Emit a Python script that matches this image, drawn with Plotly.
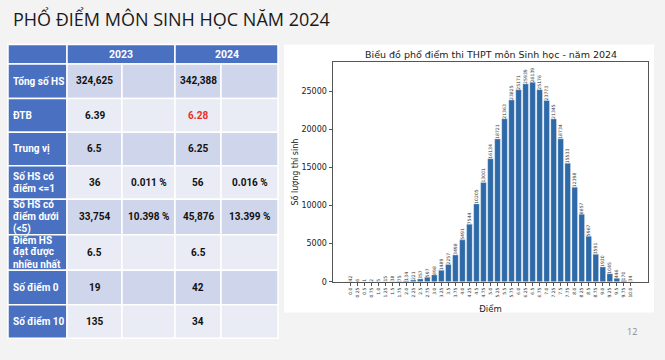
import plotly.graph_objects as go

W, H = 665, 360

# ---------------- data ----------------
scores = ["0.0", "0.25", "0.5", "0.75", "1.0", "1.25", "1.5", "1.75", "2.0", "2.25",
          "2.5", "2.75", "3.0", "3.25", "3.5", "3.75", "4.0", "4.25", "4.5", "4.75",
          "5.0", "5.25", "5.5", "5.75", "6.0", "6.25", "6.5", "6.75", "7.0", "7.25",
          "7.5", "7.75", "8.0", "8.25", "8.5", "8.75", "9.0", "9.25", "9.5", "9.75", "10.0"]
counts = [42, 6, 1, 2, 5, 15, 38, 75, 134, 221,
          357, 597, 898, 1489, 2257, 3498, 5491, 7544, 10205, 13001,
          16134, 18721, 21363, 23825, 25171, 25939, 26139, 25176, 23773, 21345,
          18734, 15533, 12398, 8857, 5967, 3591, 1930, 1045, 446, 170, 34]

row_labels = ["Tổng số HS", "ĐTB", "Trung vị", "Số HS có<br>điểm &lt;=1",
              "Số HS có<br>điểm dưới<br>(&lt;5)", "Điểm HS<br>đạt được<br>nhiều nhất",
              "Số điểm 0", "Số điểm 10"]
years = ["2023", "2024"]
val_2023 = ["324,625", "6.39", "6.5", "36", "33,754", "6.5", "19", "135"]
pct_2023 = ["", "", "", "0.011 %", "10.398 %", "", "", ""]
val_2024 = ["342,388", "6.28", "6.25", "56", "45,876", "6.5", "42", "34"]
pct_2024 = ["", "", "", "0.016 %", "13.399 %", "", "", ""]


def px(x):
    return x / W


def py(y):
    return 1 - y / H


fig = go.Figure()
fig.add_trace(go.Bar(
    x=scores, y=counts, text=[str(c) for c in counts],
    textposition="outside", textangle=-90, constraintext="none",
    textfont=dict(size=4.6, color="#333", family="DejaVu Sans"),
    marker=dict(color="#2e69a8", line=dict(color="#ffffff", width=0.3)),
    cliponaxis=False, showlegend=False,
))

shapes = []
annotations = []


def note(x, y, text, font, xanchor="center", yanchor="middle", align="center"):
    annotations.append(dict(x=px(x), y=py(y), xref="paper", yref="paper", text=text,
                            showarrow=False, xanchor=xanchor, yanchor=yanchor, align=align,
                            font=font))


# white chart panel
shapes.append(dict(type="rect", xref="paper", yref="paper", layer="below",
                   x0=px(284), x1=px(654), y0=py(317), y1=py(45),
                   fillcolor="#ffffff", line=dict(width=0)))

# ---------------- table ----------------
BLUE = "#4a70c2"
DARK = "#cfd5ea"
LIGHT = "#e9ebf5"
col_x = [8, 67, 122, 175, 221, 278]
hdr = (45, 65)
row_y = [65, 100, 134, 168, 202, 238, 274, 309, 343]
GRID = dict(color="#ffffff", width=1.5)
LINE_H = 12.2

shapes.append(dict(type="rect", xref="paper", yref="paper", x0=px(col_x[0]), x1=px(col_x[1]),
                   y0=py(hdr[1]), y1=py(hdr[0]), fillcolor=BLUE, line=GRID))
for i, yr in enumerate(years):
    xa, xb = col_x[1 + 2 * i], col_x[3 + 2 * i]
    shapes.append(dict(type="rect", xref="paper", yref="paper", x0=px(xa), x1=px(xb),
                       y0=py(hdr[1]), y1=py(hdr[0]), fillcolor=BLUE, line=GRID))
    note((xa + xb) / 2, (hdr[0] + hdr[1]) / 2, "<b>%s</b>" % yr,
         dict(family="Roboto", size=10.5, color="#ffffff"))

for r, lab in enumerate(row_labels):
    ya, yb = row_y[r], row_y[r + 1]
    fill = DARK if r % 2 == 0 else LIGHT
    shapes.append(dict(type="rect", xref="paper", yref="paper", x0=px(col_x[0]), x1=px(col_x[1]),
                       y0=py(yb), y1=py(ya), fillcolor=BLUE, line=GRID))
    lines = lab.split("<br>")
    mid = (ya + yb) / 2
    for k, ln in enumerate(lines):
        yy = mid + (k - (len(lines) - 1) / 2) * LINE_H
        note(11, yy, "<b>%s</b>" % ln,
             dict(family="Roboto", size=10, color="#ffffff"), xanchor="left", align="left")
    cells = [val_2023[r], pct_2023[r], val_2024[r], pct_2024[r]]
    for c, txt in enumerate(cells):
        xa, xb = col_x[1 + c], col_x[2 + c]
        shapes.append(dict(type="rect", xref="paper", yref="paper", x0=px(xa), x1=px(xb),
                           y0=py(yb), y1=py(ya), fillcolor=fill, line=GRID))
        if txt:
            color = "#e8302a" if (c == 2 and r == 1) else "#111111"
            note((xa + xb) / 2, mid, "<b>%s</b>" % txt,
                 dict(family="Roboto", size=10, color=color))

# slide title
note(11, 19, "PHỔ ĐIỂM MÔN SINH HỌC NĂM 2024",
     dict(family="Open Sans", size=18, color="#1a1a1a"), xanchor="left")
# chart title
note(490.5, 55, "Biểu đồ phổ điểm thi THPT môn Sinh học - năm 2024",
     dict(family="DejaVu Sans", size=9.5, color="#222"))
# page number
note(632, 336, "12", dict(family="Open Sans", size=9, color="#8a8a8a"))

AX = "#555555"
fig.update_layout(
    width=W, height=H, margin=dict(l=0, r=0, t=0, b=0),
    paper_bgcolor="#f3f3f3", plot_bgcolor="#ffffff",
    shapes=shapes, annotations=annotations, bargap=0.2,
    xaxis=dict(domain=[px(333), px(648)], type="category", range=[-2.44, 42.44],
               showline=True, mirror=True, linecolor=AX, linewidth=1,
               ticks="outside", ticklen=3, tickcolor=AX, tickangle=-90,
               tickfont=dict(size=4.5, family="DejaVu Sans", color="#333"),
               showgrid=False, zeroline=False,
               title=dict(text="Điểm", font=dict(size=8.5, family="DejaVu Sans", color="#222"),
                          standoff=9)),
    yaxis=dict(domain=[py(285.7), py(63.3)], range=[0, 28753],
               tickvals=[0, 5000, 10000, 15000, 20000, 25000], tickformat="d",
               showline=True, mirror=True, linecolor=AX, linewidth=1,
               ticks="outside", ticklen=3.5, tickcolor=AX,
               tickfont=dict(size=8, family="DejaVu Sans", color="#222"),
               showgrid=False, zeroline=False,
               title=dict(text="Số lượng thí sinh", font=dict(size=8, family="DejaVu Sans", color="#222"),
                          standoff=1)),
)

fig.write_html("out.html", config={"displayModeBar": False},
               post_script="document.body.style.margin='0';")
